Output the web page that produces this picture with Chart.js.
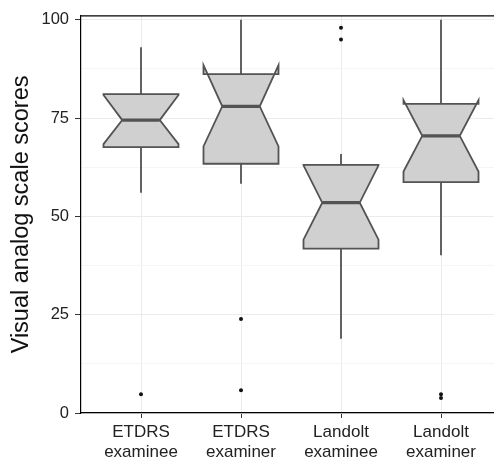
<!DOCTYPE html>
<html>
<head>
<meta charset="utf-8">
<script src="https://cdn.jsdelivr.net/npm/chart.js@4/dist/chart.umd.min.js"></script>
<style>
html,body{margin:0;padding:0;background:#fff;overflow:hidden;}
#wrap{width:494px;height:458px;}
</style>
</head>
<body>
<div id="wrap"><canvas id="c" width="494" height="458"></canvas></div>
<script>
// ---- data ----
const categories = [['ETDRS','examinee'], ['ETDRS','examiner'], ['Landolt','examinee'], ['Landolt','examiner']];
const whiskerLow  = [56.0, 58.3, 18.9, 40.1];
const q1          = [67.6, 63.4, 41.8, 58.7];
const notchLow    = [68.4, 67.8, 44.1, 61.4];
const median      = [74.5, 78.0, 53.5, 70.5];
const notchHigh   = [80.9, 88.5, 63.0, 79.6];
const q3          = [81.1, 86.2, 63.1, 78.6];
const whiskerHigh = [93.0, 100.0, 65.9, 100.0];
const outliers    = [[4.8], [23.9, 5.8], [98.0, 95.0], [4.8, 3.8]];
const yTicks = [0, 12.5, 25, 37.5, 50, 62.5, 75, 87.5, 100];
const yAxisTitle = 'Visual analog scale scores';

const outlierPoints = [];
outliers.forEach((arr, i) => arr.forEach(v => outlierPoints.push({x: i + 1, y: v})));

const FONT = "'Liberation Sans', Arial, Helvetica, sans-serif";

const boxPlugin = {
  id: 'notchedBoxes',
  beforeDatasetsDraw(chart) {
    const ctx = chart.ctx;
    const xs = chart.scales.x, ys = chart.scales.y;
    ctx.save();
    categories.forEach((c, i) => {
      const cx = xs.getPixelForValue(i + 1);
      const hw = xs.getPixelForValue(i + 1 + 0.375) - cx;
      const xmin = cx - hw, xmax = cx + hw;
      const indent = hw / 2;
      const Y = v => ys.getPixelForValue(v);
      ctx.strokeStyle = '#535353';
      ctx.lineWidth = 1.8;
      ctx.beginPath();
      ctx.moveTo(cx, Y(q3[i])); ctx.lineTo(cx, Y(whiskerHigh[i]));
      ctx.moveTo(cx, Y(q1[i])); ctx.lineTo(cx, Y(whiskerLow[i]));
      ctx.stroke();
      ctx.beginPath();
      ctx.moveTo(xmin, Y(q3[i]));
      ctx.lineTo(xmin, Y(notchHigh[i]));
      ctx.lineTo(xmin + indent, Y(median[i]));
      ctx.lineTo(xmin, Y(notchLow[i]));
      ctx.lineTo(xmin, Y(q1[i]));
      ctx.lineTo(xmax, Y(q1[i]));
      ctx.lineTo(xmax, Y(notchLow[i]));
      ctx.lineTo(xmax - indent, Y(median[i]));
      ctx.lineTo(xmax, Y(notchHigh[i]));
      ctx.lineTo(xmax, Y(q3[i]));
      ctx.closePath();
      ctx.fillStyle = '#cfd0cf';
      ctx.fill();
      ctx.lineJoin = 'miter';
      ctx.lineWidth = 1.8;
      ctx.stroke();
      ctx.beginPath();
      ctx.lineWidth = 3.2;
      ctx.moveTo(xmin + indent, Y(median[i]));
      ctx.lineTo(xmax - indent, Y(median[i]));
      ctx.stroke();
    });
    ctx.restore();
  },
  afterDraw(chart) {
    const ctx = chart.ctx, a = chart.chartArea;
    ctx.save();
    ctx.strokeStyle = '#000';
    ctx.lineWidth = 1.2;
    ctx.beginPath();
    ctx.moveTo(a.left, a.top);
    ctx.lineTo(a.right, a.top);
    ctx.stroke();
    ctx.restore();
  }
};

new Chart(document.getElementById('c'), {
  type: 'scatter',
  data: {
    datasets: [{
      data: outlierPoints,
      pointRadius: 2,
      pointHoverRadius: 2,
      pointBackgroundColor: '#111',
      pointBorderColor: '#111',
      pointBorderWidth: 0
    }]
  },
  options: {
    responsive: false,
    animation: false,
    events: [],
    layout: {autoPadding: false, padding: {top: 15, right: 0, left: 0, bottom: 0}},
    plugins: {legend: {display: false}, tooltip: {enabled: false}},
    scales: {
      x: {
        type: 'linear',
        min: 0.4,
        max: 4.53,
        afterBuildTicks: s => { s.ticks = [1, 2, 3, 4].map(v => ({value: v})); },
        afterFit: s => { s.height = 45; },
        ticks: {
          autoSkip: false,
          maxRotation: 0,
          padding: 5,
          color: '#222',
          font: {family: FONT, size: 17, lineHeight: 1.15},
          callback: v => categories[v - 1]
        },
        grid: {color: '#ebebeb', lineWidth: 1, tickColor: '#333', tickLength: 5},
        border: {display: true, color: '#000', width: 1.2}
      },
      y: {
        min: 0,
        max: 101,
        afterBuildTicks: s => { s.ticks = yTicks.map(v => ({value: v})); },
        afterFit: s => { s.width = 81; },
        ticks: {
          autoSkip: false,
          padding: 6,
          color: '#222',
          font: {family: FONT, size: 16.5},
          callback: v => (v % 25 === 0 ? String(v) : '')
        },
        grid: {
          color: c => (c.tick && c.tick.value % 25 === 0 ? '#ebebeb' : '#f5f5f5'),
          tickColor: c => (c.tick && c.tick.value % 25 === 0 ? '#333' : 'rgba(0,0,0,0)'),
          lineWidth: 1,
          tickLength: 6
        },
        border: {display: true, color: '#000', width: 1.2},
        title: {
          display: true,
          text: yAxisTitle,
          color: '#111',
          font: {family: FONT, size: 23.5},
          padding: {top: 7, bottom: 0}
        }
      }
    }
  },
  plugins: [boxPlugin]
});
</script>
</body>
</html>
